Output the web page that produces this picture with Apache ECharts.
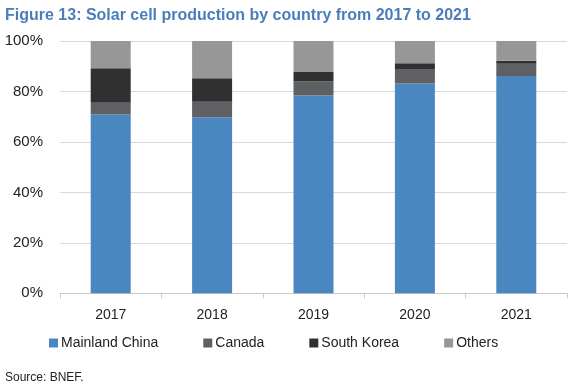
<!DOCTYPE html>
<html>
<head>
<meta charset="utf-8">
<script src="https://cdn.jsdelivr.net/npm/echarts@6/dist/echarts.min.js"></script>
<style>
html,body{margin:0;padding:0;background:#fff;}
#c{width:569px;height:381px;}
</style>
</head>
<body>
<div id="c"></div>
<script>
const categories = ['2017', '2018', '2019', '2020', '2021'];
const mainlandChina = [70.9, 69.8, 78.4, 83.2, 86.1];
const canada = [4.6, 6.1, 5.5, 5.7, 4.9];
const southKorea = [13.7, 9.3, 3.8, 2.3, 1.2];
const others = [10.8, 14.8, 12.3, 8.8, 7.8];
const yTicks = [0, 20, 40, 60, 80, 100];

const seriesDefs = [
  { name: 'Mainland China', data: mainlandChina, color: '#4a86bf' },
  { name: 'Canada', data: canada, color: '#5f6064' },
  { name: 'South Korea', data: southKorea, color: '#303030' },
  { name: 'Others', data: others, color: '#979797' }
];

const chart = echarts.init(document.getElementById('c'), null, { renderer: 'canvas' });
chart.setOption({
  animation: false,
  backgroundColor: '#fff',
  title: [
    {
      text: 'Figure 13: Solar cell production by country from 2017 to 2021',
      left: 0, top: 3,
      textStyle: { fontFamily: 'Liberation Sans, Arial, sans-serif', fontSize: 16, fontWeight: 'bold', color: '#4a7ebb' }
    },
    {
      text: 'Source: BNEF.',
      left: 0, top: 367,
      textStyle: { fontFamily: 'Liberation Sans, Arial, sans-serif', fontSize: 12, fontWeight: 'normal', color: '#222' }
    }
  ],
  legend: {
    left: 44, top: 331,
    itemWidth: 9, itemHeight: 9, itemGap: 45,
    icon: 'rect',
    textStyle: { fontFamily: 'Liberation Sans, Arial, sans-serif', fontSize: 14, color: '#222', padding: [0, 0, 0, -2] },
    data: seriesDefs.map(s => s.name)
  },
  grid: { left: 60, right: 2, top: 41, bottom: 381 - 293.3, containLabel: false },
  xAxis: {
    type: 'category',
    data: categories,
    axisLine: { lineStyle: { color: '#c8c8c8', width: 1 } },
    axisTick: { show: true, length: 5, lineStyle: { color: '#c8c8c8' } },
    axisLabel: { fontFamily: 'Liberation Sans, Arial, sans-serif', fontSize: 14, color: '#222', margin: 15 }
  },
  yAxis: {
    type: 'value',
    min: yTicks[0], max: yTicks[yTicks.length - 1], interval: 20,
    axisLine: { show: false },
    axisTick: { show: false },
    splitLine: { lineStyle: { color: '#d9d9d9', width: 1 } },
    axisLabel: { fontFamily: 'Liberation Sans, Arial, sans-serif', fontSize: 15, color: '#222', margin: 17, formatter: '{value}%' }
  },
  series: seriesDefs.map(s => ({
    name: s.name,
    type: 'bar',
    stack: 'total',
    barWidth: 40,
    data: s.data,
    itemStyle: { color: s.color }
  }))
});
</script>
</body>
</html>
